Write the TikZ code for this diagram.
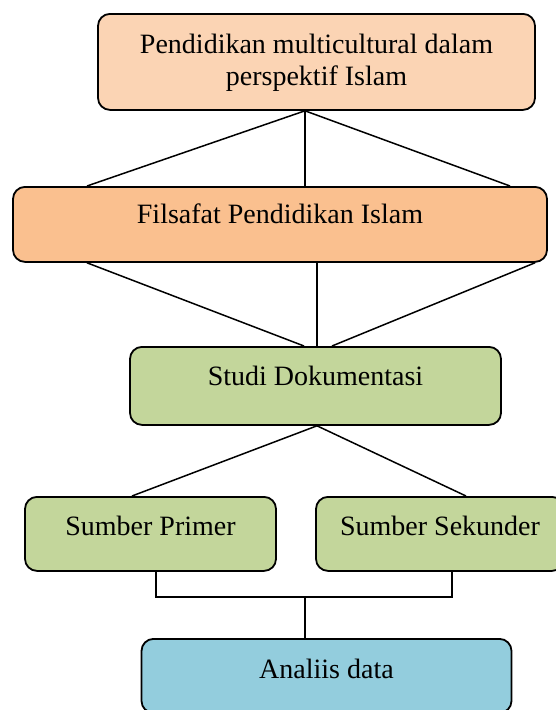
\documentclass[tikz,border=0pt]{standalone}
\usepackage{fontspec}
\setmainfont{Liberation Serif}
\definecolor{peach}{HTML}{FBD4B4}
\definecolor{apricot}{HTML}{FAC08F}
\definecolor{olive}{HTML}{C3D69B}
\definecolor{sky}{HTML}{93CDDD}
\tikzset{
  kotak/.style={draw, line width=1.8pt, rounded corners=12pt, inner sep=0pt,
    anchor=north, align=center, font=\fontsize{28}{32}\selectfont},
  garis/.style={line width=1.5pt}
}
\begin{document}
\begin{tikzpicture}[x=1pt,y=-1pt]
\useasboundingbox (0,0) rectangle (555,710);
\node[kotak, fill=peach, minimum width=437pt, minimum height=96pt, text height=72pt, text depth=24pt] (tema) at (316.5,13) {Pendidikan multicultural dalam\\perspektif Islam};
\node[kotak, fill=apricot, minimum width=534pt, minimum height=75pt, text height=37pt, text depth=38pt] (filsafat) at (280,186) {Filsafat Pendidikan Islam};
\node[kotak, fill=olive, minimum width=371pt, minimum height=78pt, text height=39pt, text depth=39pt] (studi) at (315.5,346) {Studi Dokumentasi};
\node[kotak, fill=olive, minimum width=251pt, minimum height=74pt, text height=39pt, text depth=35pt] (primer) at (150.5,496) {Sumber Primer};
\node[kotak, fill=olive, minimum width=248pt, minimum height=74pt, text height=39pt, text depth=35pt] (sekunder) at (440,496) {Sumber Sekunder};
\node[kotak, fill=sky, minimum width=370pt, minimum height=74pt, text height=40pt, text depth=34pt] (analisis) at (326.5,638) {Analiis data};
\draw[garis] ([xshift=-11.5pt]tema.south) -- ([xshift=-193pt]filsafat.north);
\draw[garis] ([xshift=-11.5pt]tema.south) -- ([xshift=25pt]filsafat.north);
\draw[garis] ([xshift=-11.5pt]tema.south) -- ([xshift=230pt]filsafat.north);
\draw[garis] ([xshift=-193pt]filsafat.south) -- ([xshift=-11.5pt]studi.north);
\draw[garis] ([xshift=37pt]filsafat.south) -- ([xshift=1.5pt]studi.north);
\draw[garis] ([xshift=255pt]filsafat.south) -- ([xshift=16.5pt]studi.north);
\draw[garis] ([xshift=1.5pt]studi.south) -- ([xshift=-18.5pt]primer.north);
\draw[garis] ([xshift=1.5pt]studi.south) -- ([xshift=26pt]sekunder.north);
\coordinate (gabung) at (305,597);
\draw[garis] ([xshift=5.5pt]primer.south) |- (gabung) -| ([xshift=12pt]sekunder.south);
\draw[garis] (gabung) -- ([xshift=-21.5pt]analisis.north);
\end{tikzpicture}
\end{document}
